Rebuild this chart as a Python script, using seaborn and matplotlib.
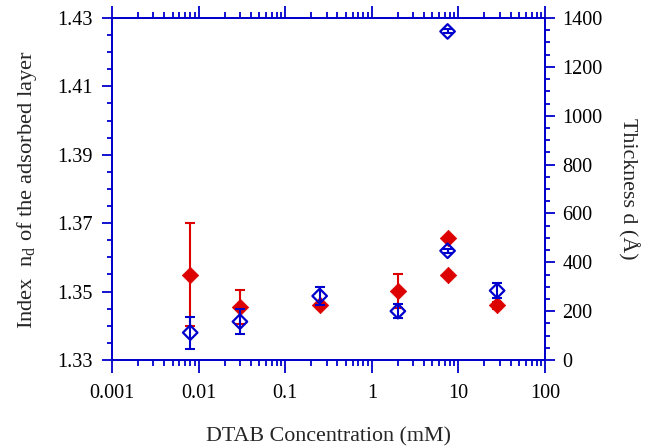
import numpy as np
import pandas as pd
import matplotlib
matplotlib.use("Agg")
import matplotlib.pyplot as plt
import seaborn as sns
from matplotlib.ticker import LogLocator, MultipleLocator, FixedLocator, FixedFormatter, NullFormatter

# ---- data ----
conc_index = [0.008, 0.03, 0.25, 2.0, 7.5, 7.5, 28.0]
index_vals = [1.355, 1.3455, 1.346, 1.3502, 1.3657, 1.355, 1.346]
index_err = [0.015, 0.005, 0.0, 0.005, 0.0, 0.0, 0.001]

conc_thick = [0.008, 0.03, 0.25, 2.0, 7.5, 7.5, 28.0]
thick_vals = [112, 157, 262, 200, 447, 1345, 284]
thick_err = [65, 50, 35, 28, 8, 8, 30]

x_ticks = [0.001, 0.01, 0.1, 1, 10, 100]
x_labels = ["0.001", "0.01", "0.1", "1", "10", "100"]
y_ticks = [1.33, 1.35, 1.37, 1.39, 1.41, 1.43]
y_labels = ["1.33", "1.35", "1.37", "1.39", "1.41", "1.43"]

RED = "#dd0000"
BLUE = "#0000cc"

sns.set_theme(style="ticks")
plt.rcParams["font.family"] = ["Liberation Serif", "DejaVu Serif"]
plt.rcParams["mathtext.fontset"] = "custom"
plt.rcParams["mathtext.rm"] = "Liberation Serif"

fig = plt.figure(figsize=(6.5, 4.47), dpi=100)
ax = fig.add_axes([112/650, 1-360/447, (545-112)/650, (360-18)/447])
ax2 = ax.twinx()

df_i = pd.DataFrame({"conc": conc_index, "val": index_vals, "err": index_err})
df_t = pd.DataFrame({"conc": conc_thick, "val": thick_vals, "err": thick_err})

# red: refractive index (left axis)
mask = df_i["err"] > 0
ax.errorbar(df_i["conc"][mask], df_i["val"][mask], yerr=df_i["err"][mask], fmt="none",
            ecolor=RED, elinewidth=1.5, capsize=3.5, capthick=1.5, zorder=2)
sns.scatterplot(data=df_i, x="conc", y="val", ax=ax, marker="D", s=70, color=RED,
                edgecolor=RED, linewidth=0.5, zorder=3, legend=False)

# blue: thickness (right axis)
ax2.errorbar(df_t["conc"], df_t["val"], yerr=df_t["err"], fmt="none",
             ecolor=BLUE, elinewidth=1.5, capsize=3.5, capthick=1.5, zorder=2)
sns.scatterplot(data=df_t, x="conc", y="val", ax=ax2, marker="D", s=55, facecolor="none",
                edgecolor=BLUE, linewidth=1.6, zorder=3, legend=False)

ax.set_xscale("log")
ax.set_xlim(0.001, 100)
ax.set_ylim(1.33, 1.43)
ax2.set_ylim(0, 1400)

ax.xaxis.set_major_locator(FixedLocator(x_ticks))
ax.xaxis.set_major_formatter(FixedFormatter(x_labels))
ax.xaxis.set_minor_locator(LogLocator(base=10, subs=np.arange(2, 10)))
ax.xaxis.set_minor_formatter(NullFormatter())

ax.yaxis.set_major_locator(FixedLocator(y_ticks))
ax.yaxis.set_major_formatter(FixedFormatter(y_labels))
ax.yaxis.set_minor_locator(MultipleLocator(0.005))
ax2.yaxis.set_major_locator(MultipleLocator(200))
ax2.yaxis.set_minor_locator(MultipleLocator(50))

for a in (ax, ax2):
    for s in a.spines.values():
        s.set_color(BLUE)
        s.set_linewidth(1.3)
        s.set_visible(True)

FS = 14.6
ax.tick_params(axis="x", which="both", direction="out", top=True, bottom=True,
               color=BLUE, labelcolor="black", labelsize=FS, width=1.3)
ax.tick_params(axis="x", which="major", length=9, pad=8)
ax.tick_params(axis="x", which="minor", length=4.5)
ax.tick_params(axis="y", which="both", direction="out", left=True, right=False,
               color=BLUE, labelcolor="black", labelsize=FS, width=1.3)
ax.tick_params(axis="y", which="major", length=7.5, pad=6.5)
ax.tick_params(axis="y", which="minor", length=3.8)
ax2.tick_params(axis="y", which="both", direction="out", right=True, left=False,
                color=BLUE, labelcolor="black", labelsize=FS, width=1.3)
ax2.tick_params(axis="y", which="major", length=7.5, pad=5)
ax2.tick_params(axis="y", which="minor", length=3.8)

ax.set_xlabel("DTAB Concentration (mM)", fontsize=15.8, labelpad=18)
ax.set_ylabel(r"Index  n$_\mathregular{d}$ of the adsorbed layer", fontsize=16.2, labelpad=13)
ax2.set_ylabel("Thickness d (Å)", fontsize=15.8, rotation=270, labelpad=26)

fig.savefig("out.png", dpi=100)
